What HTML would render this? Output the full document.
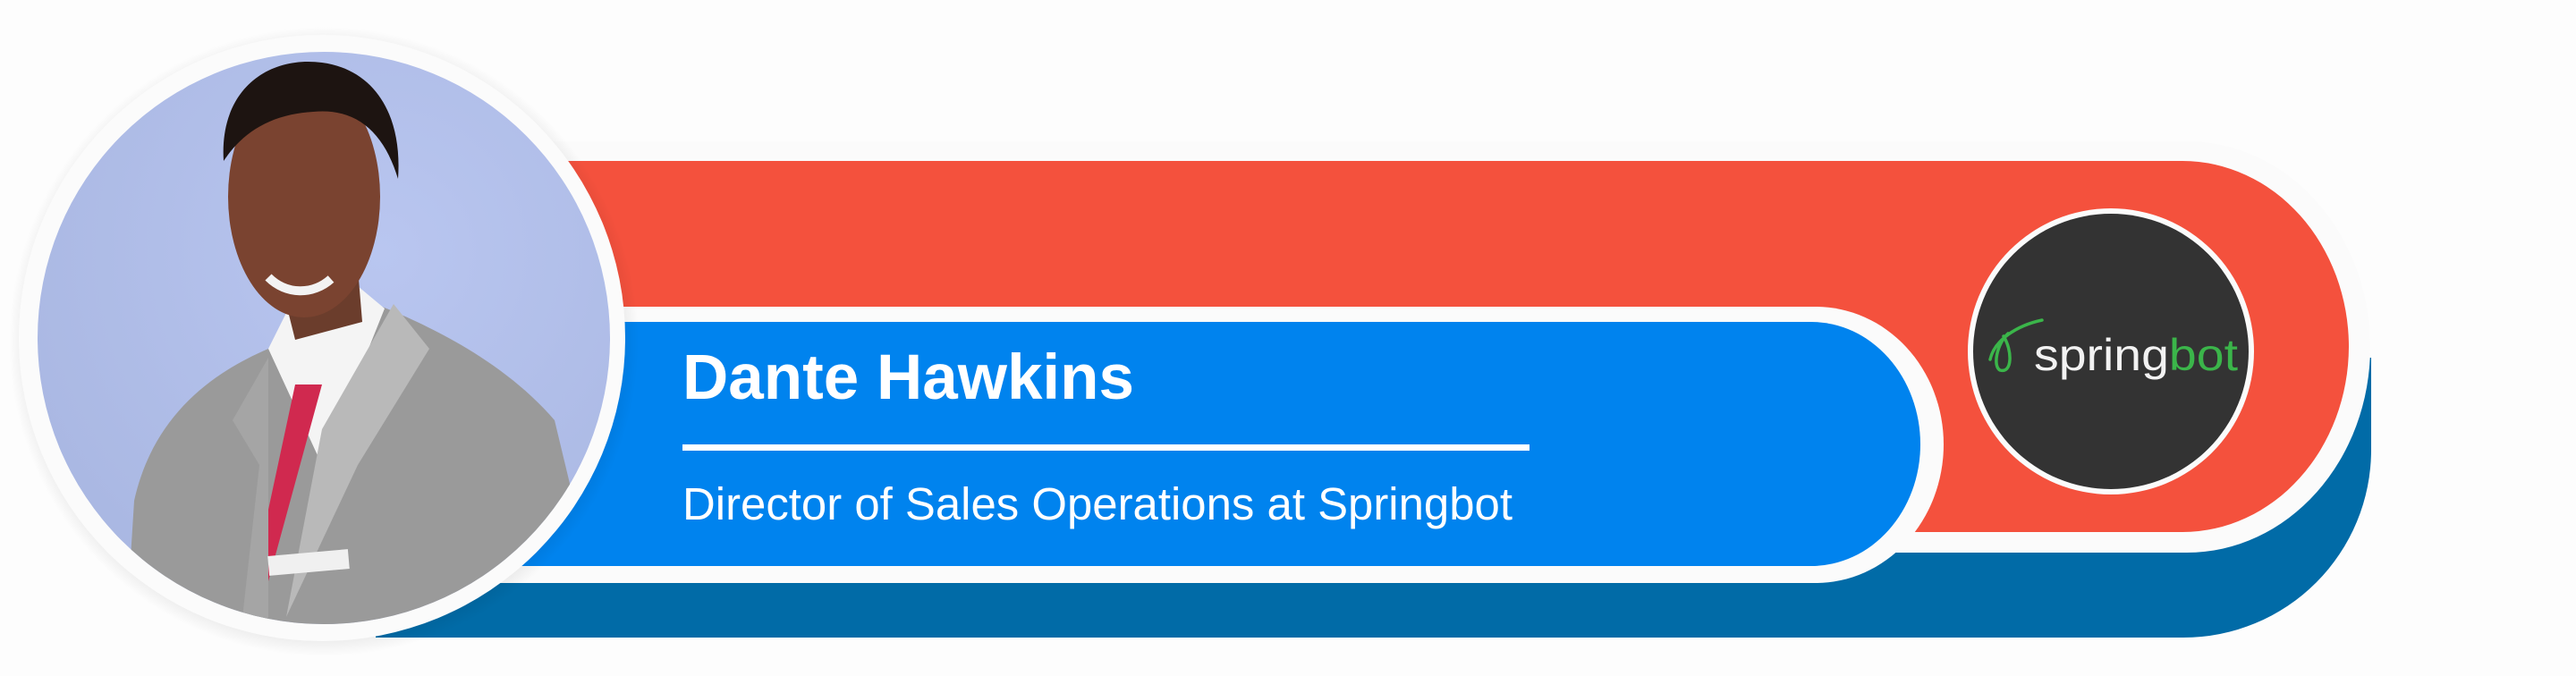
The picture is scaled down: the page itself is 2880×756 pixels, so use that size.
<!DOCTYPE html>
<html><head><meta charset="utf-8"><style>
html,body{margin:0;padding:0;background:#fdfdfd;}
svg{display:block;}
</style></head><body>
<svg width="2880" height="756" viewBox="0 0 2880 756" xmlns="http://www.w3.org/2000/svg">
<defs>
<clipPath id="pc"><circle cx="362" cy="378" r="320"/></clipPath>
<radialGradient id="bg" cx="0.6" cy="0.35" r="0.8">
<stop offset="0" stop-color="#b9c6f0"/><stop offset="1" stop-color="#a7b5e0"/></radialGradient>
<radialGradient id="sh" cx="0.5" cy="0.5" r="0.5">
<stop offset="0.9" stop-color="#000" stop-opacity="0.12"/><stop offset="1" stop-color="#000" stop-opacity="0"/></radialGradient>
</defs>
<rect width="2880" height="756" fill="#fdfdfd"/>
<!-- dark blue bar -->
<path d="M420 400 H2651 V503 A210 210 0 0 1 2441 713 H420 Z" fill="#016ba7"/>
<!-- red bar with white border -->
<path d="M600 158 H2445 A205 230 0 0 1 2650 388 A205 230 0 0 1 2445 618 H600 Z" fill="#fbfbfb"/>
<path d="M600 180 H2440 A186 208 0 0 1 2626 388 A186 208 0 0 1 2440 595 H600 Z" fill="#f4513d"/>
<!-- blue bar with white border -->
<path d="M540 343 H2030 A143 154 0 0 1 2173 497 A143 155 0 0 1 2030 652 H540 Z" fill="#fbfbfb"/>
<path d="M540 360 H2025 A122 137 0 0 1 2147 497 A122 136 0 0 1 2025 633 H540 Z" fill="#0083ee"/>
<!-- logo circle -->
<circle cx="2360" cy="393" r="160" fill="#fbfbfb"/>
<circle cx="2360" cy="393" r="154" fill="#333333"/>
<path d="M2283 358 C2255 364 2230 380 2225 402 M2245 373 C2232 385 2228 410 2236 414 C2250 418 2250 392 2240 376" stroke="#3bb54a" stroke-width="3.5" fill="none" stroke-linecap="round"/>
<text x="2274" y="414" font-family="'Liberation Sans',sans-serif" font-size="50" fill="#f2f2f2" textLength="228" lengthAdjust="spacingAndGlyphs">spring<tspan fill="#3bb54a">bot</tspan></text>
<!-- texts -->
<text x="763" y="446" font-family="'Liberation Sans',sans-serif" font-weight="bold" font-size="71" fill="#ffffff" textLength="505" lengthAdjust="spacingAndGlyphs">Dante Hawkins</text>
<rect x="763" y="497" width="947" height="7" fill="#ffffff"/>
<text x="763" y="581" font-family="'Liberation Sans',sans-serif" font-size="51" fill="#ffffff" textLength="928" lengthAdjust="spacingAndGlyphs">Director of Sales Operations at Springbot</text>
<!-- photo -->
<circle cx="362" cy="382" r="352" fill="url(#sh)"/>
<circle cx="360" cy="378" r="339" fill="#fbfbfb"/>
<g clip-path="url(#pc)">
<rect x="40" y="58" width="644" height="640" fill="url(#bg)"/>
<path d="M140 720 L150 560 C170 470 230 420 300 390 L420 340 C470 360 560 400 620 470 L680 720 Z" fill="#9a9a9a"/>
<path d="M300 390 L330 330 L400 320 L430 345 L360 520 Z" fill="#f4f4f4"/>
<path d="M330 430 L360 430 L300 650 L285 640 Z" fill="#d0294f"/>
<path d="M440 340 L480 390 L400 520 L320 690 L360 480 Z" fill="#b9b9b9"/>
<path d="M300 400 L260 470 L290 520 L270 700 L300 700 Z" fill="#a5a5a5"/>
<rect x="300" y="618" width="90" height="22" fill="#f0f0f0" transform="rotate(-5 345 629)"/>
<path d="M310 300 L400 300 L405 360 L330 380 Z" fill="#6b3d2c"/>
<ellipse cx="340" cy="220" rx="85" ry="135" fill="#7a4330"/>
<path d="M250 180 C245 100 300 62 360 70 C420 78 450 130 445 200 C430 150 400 120 350 125 C300 128 270 150 250 180 Z" fill="#1d1411"/>
<path d="M300 310 C320 330 350 330 370 312" stroke="#f3f3f3" stroke-width="10" fill="none"/>
</g>
</svg>
</body></html>
